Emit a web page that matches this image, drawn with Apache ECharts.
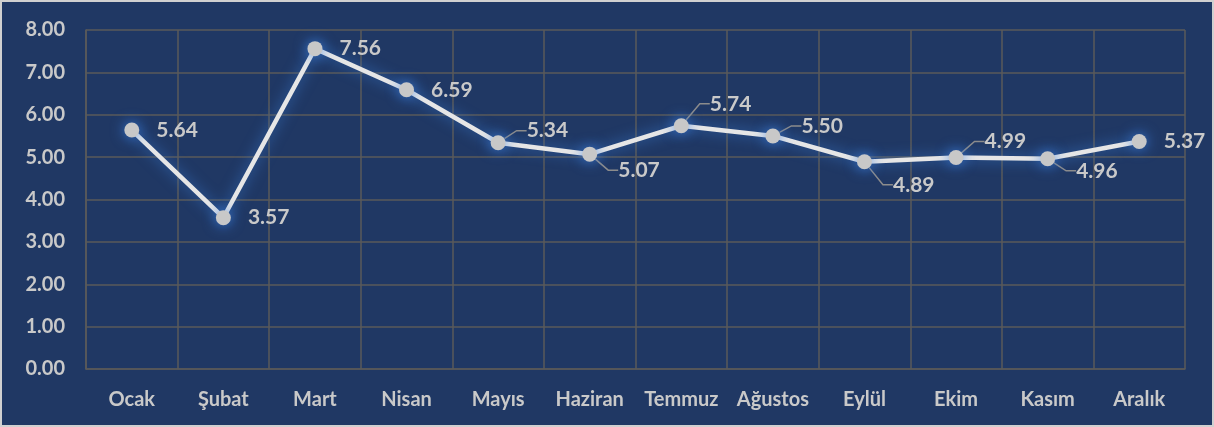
<!DOCTYPE html>
<html>
<head>
<meta charset="utf-8">
<script src="https://cdn.jsdelivr.net/npm/echarts@6/dist/echarts.min.js"></script>
<style>
  html, body { margin: 0; padding: 0; background: #ffffff; }
  #chart { width: 1210px; height: 423px; border: 2px solid #d0d0d0; background: #203864; }
</style>
</head>
<body>
<div id="chart"></div>
<script>
var months = ["Ocak", "Şubat", "Mart", "Nisan", "Mayıs", "Haziran", "Temmuz", "Ağustos", "Eylül", "Ekim", "Kasım", "Aralık"];
var values = [5.64, 3.57, 7.56, 6.59, 5.34, 5.07, 5.74, 5.50, 4.89, 4.99, 4.96, 5.37];
var yTicks = [0, 1, 2, 3, 4, 5, 6, 7, 8];

// label offsets (dx, dy) from the default right-side position
var labelShift = [
    [0, 0], [0, 0], [0, 0], [0, 0],
    [4, -12], [4, 16], [4, -22], [4, -10],
    [4, 23], [4, -16], [4, 12], [0, 0]
];

var chart = echarts.init(document.getElementById("chart"));
var textColor = "#c9c9c9";
var gridColor = "#5a5a5a";

var seriesData = values.map(function (v, i) {
    var s = labelShift[i];
    var moved = s[0] !== 0 || s[1] !== 0;
    return { value: v, labelLine: { show: moved } };
});

chart.setOption({
    animation: false,
    grid: { left: 84, right: 27, top: 28, bottom: 56 },
    xAxis: {
        type: "category",
        data: months,
        boundaryGap: true,
        axisLine: { show: true, lineStyle: { color: gridColor, width: 1.5 } },
        axisTick: { show: false },
        splitLine: { show: true, interval: 0, lineStyle: { color: gridColor, width: 1.5 } },
        axisLabel: {
            interval: 0,
            color: textColor, fontFamily: "Lato", fontWeight: "bold",
            fontSize: 20, margin: 21
        }
    },
    yAxis: {
        type: "value",
        min: yTicks[0],
        max: yTicks[yTicks.length - 1],
        interval: 1,
        axisLine: { show: true, lineStyle: { color: gridColor, width: 1.5 } },
        axisTick: { show: false },
        splitLine: { show: true, lineStyle: { color: gridColor, width: 1.5 } },
        axisLabel: {
            color: textColor, fontFamily: "Lato", fontWeight: "bold",
            fontSize: 20, margin: 21,
            formatter: function (v) { return v.toFixed(2); }
        }
    },
    series: [{
        type: "line",
        data: seriesData,
        symbol: "circle",
        symbolSize: 15,
        lineStyle: {
            color: "#e6e6e6", width: 4.5,
            shadowBlur: 14, shadowColor: "rgba(60,130,220,0.75)"
        },
        itemStyle: {
            color: "#c8c8c8",
            shadowBlur: 14, shadowColor: "rgba(60,130,230,0.9)"
        },
        label: {
            show: true,
            position: "right",
            distance: 17,
            color: textColor,
            fontFamily: "Lato",
            fontWeight: "bold",
            fontSize: 21,
            formatter: function (p) { return p.value.toFixed(2); }
        },
        labelLine: {
            length2: 10,
            lineStyle: { color: "#8c8c8c", width: 1.5 }
        },
        labelLayout: function (p) {
            var s = labelShift[p.dataIndex];
            return { dx: s[0], dy: s[1] };
        }
    }]
});
</script>
</body>
</html>
